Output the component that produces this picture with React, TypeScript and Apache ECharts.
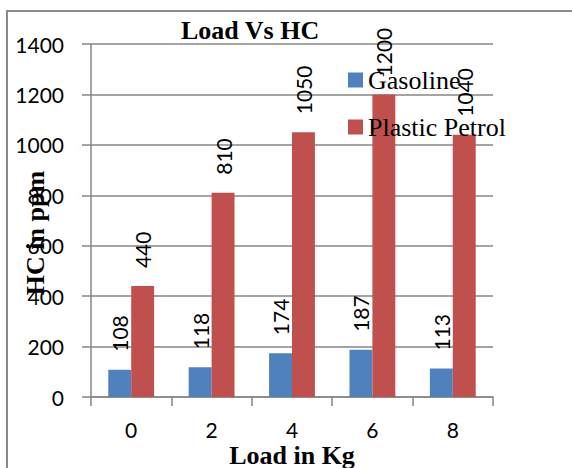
import React, { useEffect, useRef } from "react";
import * as echarts from "echarts";

const categories = ["0", "2", "4", "6", "8"];
const gasoline = [108, 118, 174, 187, 113];
const plasticPetrol = [440, 810, 1050, 1200, 1040];
const seriesNames = ["Gasoline", "Plastic Petrol"];
const yTicks = { min: 0, max: 1400, interval: 200 };

const serif = "'Liberation Serif', 'Times New Roman', serif";
const sans = "Lato, 'Open Sans', sans-serif";

export default function App() {
  const ref = useRef<HTMLDivElement>(null);
  useEffect(() => {
    if (!ref.current) return;
    const chart = echarts.init(ref.current, null, { renderer: "svg" });
    const labelCfg = {
      show: true,
      position: "top",
      rotate: 90,
      align: "left",
      verticalAlign: "middle",
      distance: 18,
      color: "#000",
      fontFamily: sans,
      fontSize: 21,
    };
    chart.setOption({
      animation: false,
      backgroundColor: "#fff",
      title: {
        text: "Load Vs HC",
        left: 181,
        top: 17,
        padding: 0,
        textStyle: { fontFamily: serif, fontWeight: "bold", fontSize: 26, color: "#000", lineHeight: 26 },
      },
      legend: {
        orient: "vertical",
        left: 348,
        top: 67,
        padding: 0,
        itemWidth: 15,
        itemHeight: 15,
        itemGap: 21,
        icon: "rect",
        data: seriesNames,
        textStyle: { fontFamily: serif, fontSize: 26, color: "#000", lineHeight: 26 },
      },
      grid: { left: 91, right: 79, top: 44, bottom: 71 },
      xAxis: {
        type: "category",
        data: categories,
        axisLine: { lineStyle: { color: "#868686", width: 1.5 } },
        axisTick: { show: true, length: 9, lineStyle: { color: "#868686", width: 1.5 } },
        axisLabel: { fontFamily: sans, fontSize: 21, color: "#000", margin: 22 },
        splitLine: { show: false },
      },
      yAxis: {
        type: "value",
        min: yTicks.min,
        max: yTicks.max,
        interval: yTicks.interval,
        axisLine: { show: true, lineStyle: { color: "#868686", width: 1.5 } },
        axisTick: { show: true, length: 9, lineStyle: { color: "#868686", width: 1.5 } },
        axisLabel: {
          fontFamily: sans,
          fontSize: 21,
          color: "#000",
          margin: 27,
          formatter: (v: number) => String(v),
        },
        splitLine: { show: true, lineStyle: { color: "#868686", width: 1.5 } },
      },
      graphic: [
        {
          type: "rect",
          shape: { x: 7, y: 11, width: 600, height: 500 },
          style: { fill: "none", stroke: "#8a8a8a", lineWidth: 2 },
          silent: true,
        },
        {
          type: "text",
          x: 35,
          y: 233,
          rotation: Math.PI / 2,
          style: {
            text: "HC in ppm",
            font: `bold 26px ${serif}`,
            fill: "#000",
            textAlign: "center",
            textVerticalAlign: "middle",
          },
        },
        {
          type: "text",
          x: 292,
          y: 455,
          style: {
            text: "Load in Kg",
            font: `bold 26px ${serif}`,
            fill: "#000",
            textAlign: "center",
            textVerticalAlign: "middle",
          },
        },
      ],
      series: [
        {
          name: seriesNames[0],
          type: "bar",
          data: gasoline,
          barGap: "0%",
          barCategoryGap: "43%",
          itemStyle: { color: "#4F81BD" },
          label: labelCfg,
        },
        {
          name: seriesNames[1],
          type: "bar",
          data: plasticPetrol,
          itemStyle: { color: "#C0504D" },
          label: labelCfg,
        },
      ],
    });
    return () => chart.dispose();
  }, []);
  return (
    <div
      ref={ref}
      style={{ position: "fixed", left: 0, top: 0, width: 572, height: 468 }}
    />
  );
}
